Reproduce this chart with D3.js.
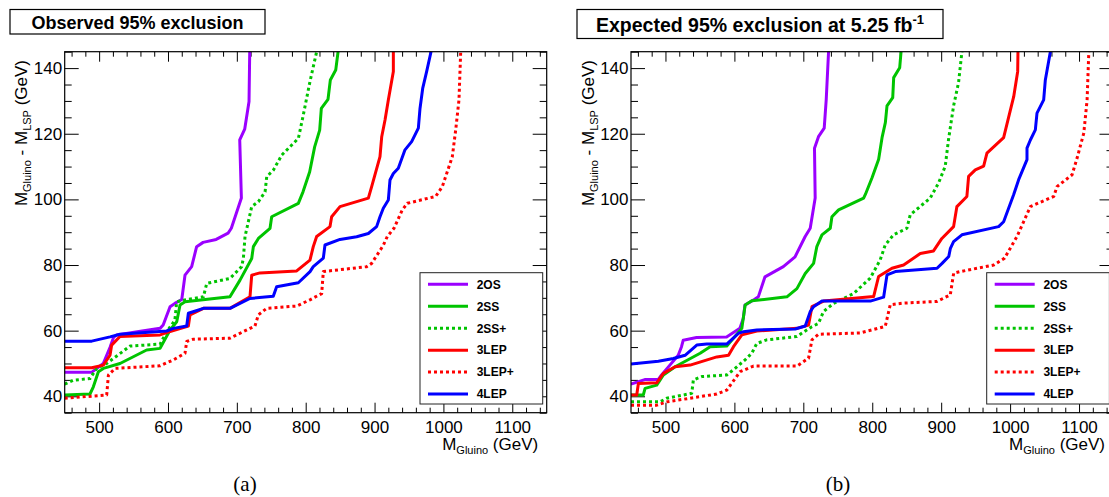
<!DOCTYPE html>
<html>
<head>
<meta charset="utf-8">
<script src="https://cdn.jsdelivr.net/npm/d3@7"></script>
<style>
body { margin: 0; background: #fff; }
svg { display: block; }
</style>
</head>
<body>
<div id="chart"></div>
<script>
var seriesNames = ["2OS", "2SS", "2SS+", "3LEP", "3LEP+", "4LEP"];
var xMajorTicks = [500, 600, 700, 800, 900, 1000, 1100];
var yMajorTicks = [40, 60, 80, 100, 120, 140];
var xDomain = [450, 1150];
var yDomain = [35, 145];

// observed (a)
var obs2OS = [[450,47.3],[489,47.3],[506,50],[516,55],[521,58],[525.5,58.7],[560,59.8],[588.5,60.7],[593,61.7],[603,67.3],[610,68.3],[620,69.5],[624.7,76.9],[634.4,79.5],[641.6,85.6],[651,86.9],[670,87.8],[687.3,89.7],[692,91.2],[706.6,100.4],[704.2,118.1],[711.4,121.4],[717.7,129.8],[718.7,145],[719,150]];
var obs2SS = [[450,40.4],[486.7,40.7],[491.6,42.9],[498.9,47.5],[506.1,48.5],[530.3,50],[569,54.1],[588.5,54.6],[603,60.2],[612.7,62.7],[617.5,67.8],[624.7,68.8],[690,70.3],[704.6,75.4],[721.6,82],[724,85.6],[731.3,88.1],[748.2,91.2],[750.6,94.7],[789.3,98.8],[796.1,102.3],[805.8,108.4],[813,116],[820.3,121.1],[822.7,127.7],[832.4,130.5],[835.8,136.4],[843.6,139.4],[847,145],[848,150]];
var obs2SSp = [[450,43.7],[462.5,44.9],[486.7,45.4],[496.4,48.5],[511,50],[544.8,55.3],[588.5,55.9],[598,59.6],[610,63.2],[612.7,68.8],[622.4,69.3],[651.4,70.3],[656.3,74.4],[690,75.9],[707,79.5],[709.5,82.1],[711.9,88.7],[721.6,97.8],[731.3,99.3],[741,102.3],[743.4,106.9],[753,108.9],[765.2,113.5],[789.4,118.6],[796.5,125.7],[806.2,135.9],[815.9,145],[817,150]];
var obs3LEP = [[450,48.7],[489.2,48.7],[506.1,49.5],[515.8,52.5],[518.2,55.6],[530.3,58.2],[588.5,58.7],[598.1,59.4],[629.6,61.4],[632,64.8],[651.4,66.8],[690,66.8],[719.1,70.3],[721.6,76.9],[733.6,77.6],[786.9,78.2],[806.2,81.5],[811,85.6],[815.9,88.7],[835.3,91.7],[837.7,94.7],[849.8,97.8],[891,100.4],[895.8,103.9],[907.9,113],[910.4,119.1],[915.2,124.2],[920,130.3],[927.3,139],[927.3,150]];
var obs3LEPp = [[450,39.4],[511,40.4],[513.5,46.5],[523.2,48.5],[588.5,49.3],[607.9,51.1],[624.7,53.1],[627.2,56.7],[636.8,57.4],[690,57.7],[719.1,60.7],[726.3,61.4],[731.2,64.8],[743.3,66.8],[786.9,67.5],[806.2,69.4],[823.2,71.3],[825.6,78],[888.5,79.5],[895.8,80.5],[912.7,86],[918.5,88.7],[928.2,91.2],[940.3,96.8],[947.6,98.8],[988.7,100.9],[998.4,103.9],[1012.9,113],[1017.8,121.1],[1022.6,130.3],[1025.1,145],[1025.3,150]];
var obs4LEP = [[450,56.8],[489.2,56.8],[515.8,58.1],[530.3,58.9],[598,59.9],[607.8,60.7],[627.2,61.4],[629.6,65.3],[651.4,66.8],[690,66.8],[719,69.8],[752.9,70.5],[757.8,73.4],[789.3,74.6],[806.3,78],[811,79.5],[825.6,82.1],[828,86.1],[849.8,87.8],[874,88.6],[891,89.6],[903,91.7],[907.9,94.7],[912.7,97.3],[920,99.8],[922.4,105.9],[927.3,107.9],[934.5,109.5],[944.2,115.1],[953.9,117.6],[963.6,121.7],[966,127.7],[969.9,133.8],[975.7,139],[982,145],[983,150]];

// expected (b)
var exp2OS = [[450,43.7],[470,45.1],[489.4,45.1],[494.3,46.5],[506.4,49.5],[518.5,52.5],[523.3,55.1],[525.8,57.1],[545.1,57.9],[588.7,58.1],[608,60.7],[612.9,63.7],[615.3,67.8],[627.4,69.3],[634.7,70.3],[644.4,76.4],[671,79.5],[688,82.5],[702.7,88.7],[710,91.2],[717.2,100.4],[716.2,115.6],[722,119.1],[730.3,121.7],[733.2,130.3],[736.6,145],[737,150]];
var exp2SS = [[450,40.4],[467.9,40.4],[470.4,42.4],[487.3,43.4],[497,46.5],[514,49],[550.3,53.1],[564.8,55.1],[589,55.3],[610.8,60.7],[615.6,67.8],[625.3,69.1],[676.2,70.3],[690.7,72.8],[702.8,77.4],[714.9,80.5],[719.6,85.6],[727,89.2],[739.1,91.2],[741.5,94.7],[751.2,96.8],[787.5,100.4],[790,101.5],[799.7,106.6],[809.3,112.2],[814.2,118.8],[819,123.4],[821.4,128.5],[829.7,131],[831.1,137.1],[839.8,140.1],[841.8,145],[842.3,150]];
var exp2SSp = [[450,38.3],[492.1,38.3],[501.8,39.4],[538.1,40.9],[540.5,45],[552.6,46],[588.9,46.5],[601,48.5],[615.5,51.1],[625.2,53.1],[632.5,56.1],[647,57.2],[690.5,58.2],[712.3,61.2],[722,62.2],[729.2,65.8],[743.8,68.3],[772.8,71.3],[797.1,76],[811.6,81.6],[818.8,86.1],[830.9,89.2],[850.3,91.2],[855.1,95.3],[884.1,100.4],[896.2,105],[905.9,110.1],[910.7,118.3],[918,128.5],[925.2,135.6],[930.1,145],[930.5,150]];
var exp3LEP = [[450,40.4],[458.3,40.4],[460.7,43.9],[487.3,44.1],[497,47],[514,49],[535.8,49.5],[574.5,52],[591.5,52.5],[598.7,55.1],[610.8,58.7],[632.6,59.9],[690.7,60.7],[707.6,61.7],[712.5,67.3],[729.4,69],[802,70.4],[809.2,76.5],[828.6,79],[845.5,80],[869.7,83.5],[888.9,84.3],[901,88.1],[918,91.7],[922.8,97.8],[937.3,100.9],[939.8,107],[949.5,109],[961.6,110.1],[966.4,114.1],[990.6,118.8],[1005.2,131.3],[1011,139],[1011.4,145],[1011.5,150]];
var exp3LEPp = [[450,37.3],[487.3,37.3],[501.8,38.3],[574.5,40.7],[589,41.9],[608.3,47.5],[627.7,49.2],[690.7,49.2],[707.6,51.6],[712.5,57.2],[722.1,58.9],[782.6,59.3],[818.9,61.3],[826.1,67.9],[845.5,68.4],[893.9,68.9],[913.2,70.9],[918.1,77.5],[927.8,78],[976.2,80],[992,82.1],[1010,88.7],[1029.4,97.8],[1063.3,100.9],[1068.1,103.9],[1089.9,107.5],[1097.2,112.6],[1106.9,120.2],[1111.7,130.3],[1114.2,145],[1114.4,150]];
var exp4LEP = [[450,49.8],[489.7,50.7],[511.5,51.5],[528.4,52.5],[545.4,55.6],[559.9,55.9],[588.9,55.9],[605.9,59.2],[613.2,59.7],[632.5,60.2],[688.2,60.5],[702.8,61.4],[710,65.8],[714.9,67.3],[727,69],[797.2,69],[816.5,70.2],[821.4,77],[833.5,78],[894,79],[901.3,80.5],[911,82.6],[913.4,85.1],[918,87.1],[930.1,89.2],[983.3,91.7],[990.6,93.2],[1005.1,101.4],[1012.4,106],[1024.5,112.1],[1024.5,115.6],[1029.4,118.1],[1036.6,121.2],[1039,126.3],[1048.7,130.3],[1051.1,136.4],[1058.4,145],[1059,150]];

var colors = {"2OS": "#9b00ff", "2SS": "#00c400", "2SS+": "#00c400", "3LEP": "#ff0000", "3LEP+": "#ff0000", "4LEP": "#0000ff"};
var dashes = {"2SS+": "3,3", "3LEP+": "3,3"};
var font = "'Liberation Sans', Arial, Helvetica, sans-serif";

var svg = d3.select("#chart").append("svg")
	.attr("width", 1109)
	.attr("height", 497)
	.style("background-color", "#fff");

function drawPanel(id, box, curves, legendLeft) {
	var x = d3.scaleLinear().domain(xDomain).range([box.left, box.right]);
	var y = d3.scaleLinear().domain(yDomain).range([box.bottom, box.top]);
	var g = svg.append("g");

	var xMinor = d3.range(460, 1150, 20).filter(function(v){ return v % 100 != 0; });
	var yMinor = d3.range(35, 146, 5).filter(function(v){ return v % 20 != 0; });

	// ticks on all four sides, pointing in
	function ax(axis, vals, size, transform, labels) {
		var a = g.append("g").attr("transform", transform)
			.call(axis.tickValues(vals).tickSize(-size).tickFormat(labels ? d3.format("d") : ""));
		a.select(".domain").remove();
		a.attr("font-family", font).attr("font-size", 17);
		a.selectAll("line").attr("stroke", "#000");
		return a;
	}
	ax(d3.axisBottom(x), xMinor, 5, "translate(0," + box.bottom + ")");
	ax(d3.axisBottom(x).tickPadding(8.5), xMajorTicks, 10, "translate(0," + box.bottom + ")", true);
	ax(d3.axisTop(x), xMinor, 5, "translate(0," + box.top + ")");
	ax(d3.axisTop(x), xMajorTicks, 10, "translate(0," + box.top + ")");
	ax(d3.axisLeft(y), yMinor, 7, "translate(" + box.left + ",0)");
	ax(d3.axisLeft(y).tickPadding(2.5), yMajorTicks, 14, "translate(" + box.left + ",0)", true);
	ax(d3.axisRight(y), yMinor, 7, "translate(" + box.right + ",0)");
	ax(d3.axisRight(y), yMajorTicks, 14, "translate(" + box.right + ",0)");

	g.append("clipPath").attr("id", "clip-" + id)
		.append("rect")
		.attr("x", box.left).attr("y", box.top)
		.attr("width", box.right - box.left).attr("height", box.bottom - box.top);

	var line = d3.line()
		.x(function(d){ return x(d[0]); })
		.y(function(d){ return y(d[1]); });

	g.append("g").attr("clip-path", "url(#clip-" + id + ")")
		.selectAll("path")
		.data(seriesNames)
		.enter()
		.append("path")
			.attr("d", function(n){ return line(curves[n]); })
			.attr("fill", "none")
			.attr("stroke", function(n){ return colors[n]; })
			.attr("stroke-width", 3)
			.attr("stroke-dasharray", function(n){ return dashes[n] || null; })
			.attr("stroke-linejoin", "round");

	g.append("rect")
		.attr("x", box.left).attr("y", box.top)
		.attr("width", box.right - box.left).attr("height", box.bottom - box.top)
		.attr("fill", "none")
		.attr("stroke", "#000")
		.attr("stroke-width", 1.2);

	// axis titles
	var xt = g.append("text")
		.attr("x", box.right - 8.5)
		.attr("y", 449.5)
		.attr("text-anchor", "end")
		.attr("font-family", font)
		.attr("font-size", 17);
	xt.append("tspan").text("M");
	xt.append("tspan").attr("font-size", 11).attr("dy", 4).text("Gluino");
	xt.append("tspan").attr("dy", -4).text(" (GeV)");

	var yt = g.append("text")
		.attr("transform", "translate(" + (box.left - 37.5) + ",60) rotate(-90)")
		.attr("text-anchor", "end")
		.attr("font-family", font)
		.attr("font-size", 17);
	yt.append("tspan").text("M");
	yt.append("tspan").attr("font-size", 11).attr("dy", 4).text("Gluino");
	yt.append("tspan").attr("dy", -4).text(" - M");
	yt.append("tspan").attr("font-size", 11).attr("dy", 4).text("LSP");
	yt.append("tspan").attr("dy", -4).text(" (GeV)");

	// legend
	var lg = g.append("g");
	lg.append("rect")
		.attr("x", legendLeft).attr("y", 272.7)
		.attr("width", 122.7).attr("height", 131.3)
		.attr("fill", "#fff")
		.attr("stroke", "#222")
		.attr("stroke-width", 1);
	var rows = lg.selectAll("g.row")
		.data(seriesNames)
		.enter()
		.append("g")
		.attr("class", "row")
		.attr("transform", function(n, i){ return "translate(" + legendLeft + "," + (284.3 + i * 21.95) + ")"; });
	rows.append("line")
		.attr("x1", 8).attr("x2", 48)
		.attr("stroke", function(n){ return colors[n]; })
		.attr("stroke-width", 3)
		.attr("stroke-dasharray", function(n){ return dashes[n] || null; });
	rows.append("text")
		.attr("x", 56.7)
		.attr("y", 4.3)
		.attr("font-family", font)
		.attr("font-weight", "bold")
		.attr("font-size", 12)
		.text(function(n){ return n; });
}

drawPanel("a", {left: 64.7, right: 546.7, top: 51.7, bottom: 412.7},
	{"2OS": obs2OS, "2SS": obs2SS, "2SS+": obs2SSp, "3LEP": obs3LEP, "3LEP+": obs3LEPp, "4LEP": obs4LEP}, 420);
drawPanel("b", {left: 631, right: 1113.5, top: 51.7, bottom: 412.7},
	{"2OS": exp2OS, "2SS": exp2SS, "2SS+": exp2SSp, "3LEP": exp3LEP, "3LEP+": exp3LEPp, "4LEP": exp4LEP}, 986.7);

// title boxes
svg.append("rect").attr("x", 10).attr("y", 9.5).attr("width", 255).attr("height", 24.5)
	.attr("fill", "#fff").attr("stroke", "#000").attr("stroke-width", 1.2);
svg.append("text").attr("x", 137.5).attr("y", 28.9)
	.attr("text-anchor", "middle").attr("font-family", font).attr("font-weight", "bold").attr("font-size", 18)
	.text("Observed 95% exclusion");

svg.append("rect").attr("x", 577).attr("y", 9.5).attr("width", 366).attr("height", 29)
	.attr("fill", "#fff").attr("stroke", "#000").attr("stroke-width", 1.2);
var t2 = svg.append("text").attr("x", 760).attr("y", 32)
	.attr("text-anchor", "middle").attr("font-family", font).attr("font-weight", "bold").attr("font-size", 19.5);
t2.append("tspan").text("Expected 95% exclusion at 5.25 fb");
t2.append("tspan").attr("font-size", 13).attr("dy", -8).text("-1");

// captions
svg.append("text").attr("x", 245).attr("y", 491)
	.attr("text-anchor", "middle").attr("font-family", "'Liberation Serif', 'DejaVu Serif', serif").attr("font-size", 21)
	.text("(a)");
svg.append("text").attr("x", 838).attr("y", 491)
	.attr("text-anchor", "middle").attr("font-family", "'Liberation Serif', 'DejaVu Serif', serif").attr("font-size", 21)
	.text("(b)");
</script>
</body>
</html>
